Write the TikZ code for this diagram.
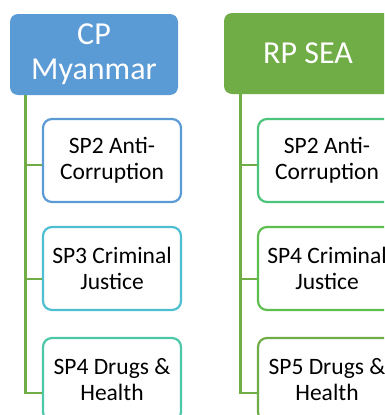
\documentclass[tikz,border=0pt]{standalone}
\usepackage{fontspec}
\setmainfont{Carlito}
\definecolor{hblue}{HTML}{5B9BD5}
\definecolor{hgreen}{HTML}{70AD47}
\definecolor{cA}{HTML}{5B9BD5}
\definecolor{cB}{HTML}{4DBFD0}
\definecolor{cC}{HTML}{4CC8A8}
\definecolor{cD}{HTML}{4CC47C}
\definecolor{cE}{HTML}{5CBF4E}
\definecolor{cF}{HTML}{70AD47}
\begin{document}
\begin{tikzpicture}[x=1pt,y=-1pt,
  header/.style={rounded corners=8pt, fill=#1, draw=none, text=white,
    minimum width=168pt, minimum height=81pt, inner sep=0pt, align=center,
    font=\fontsize{32}{35}\selectfont},
  subbox/.style={draw=#1, line width=2.2pt, rounded corners=9pt, fill=white,
    minimum width=138pt, minimum height=83pt, inner sep=0pt, align=center,
    text=black, font=\fontsize{23.5}{26.5}\selectfont},
  conn/.style={draw=hgreen, line width=2.2pt}]
\useasboundingbox (0,0) rectangle (384,415);
\clip (0,0) rectangle (384,415);
% headers
\node[header=hblue] (hL) at (94,54.5) {CP\\Myanmar};
\node[header=hgreen] (hR) at (308,53.5) {RP SEA};
% left boxes
\node[subbox=cA] (bL1) at (112,160.5) {SP2 Anti-\\Corruption};
\node[subbox=cB] (bL2) at (112,268.5) {SP3 Criminal\\Justice};
\node[subbox=cC] (bL3) at (112,379.5) {SP4 Drugs \&\\Health};
% right boxes
\node[subbox=cD] (bR1) at (327,160.5) {SP2 Anti-\\Corruption};
\node[subbox=cE] (bR2) at (327,268.5) {SP4 Criminal\\Justice};
\node[subbox=cF] (bR3) at (327,379.5) {SP5 Drugs \&\\Health};
% connector coordinates
\coordinate (tL1) at (25.5,165);
\coordinate (tL2) at (25.5,279);
\coordinate (tL3) at (25.5,393);
\coordinate (tR1) at (240.5,165);
\coordinate (tR2) at (240.5,279);
\coordinate (tR3) at (240.5,393);
% connectors
\draw[conn] (hL.south -| tL3) -- (tL3) -- (bL3.west |- tL3);
\draw[conn] (tL1) -- (bL1.west |- tL1);
\draw[conn] (tL2) -- (bL2.west |- tL2);
\draw[conn] (hR.south -| tR3) -- (tR3) -- (bR3.west |- tR3);
\draw[conn] (tR1) -- (bR1.west |- tR1);
\draw[conn] (tR2) -- (bR2.west |- tR2);
\end{tikzpicture}
\end{document}
